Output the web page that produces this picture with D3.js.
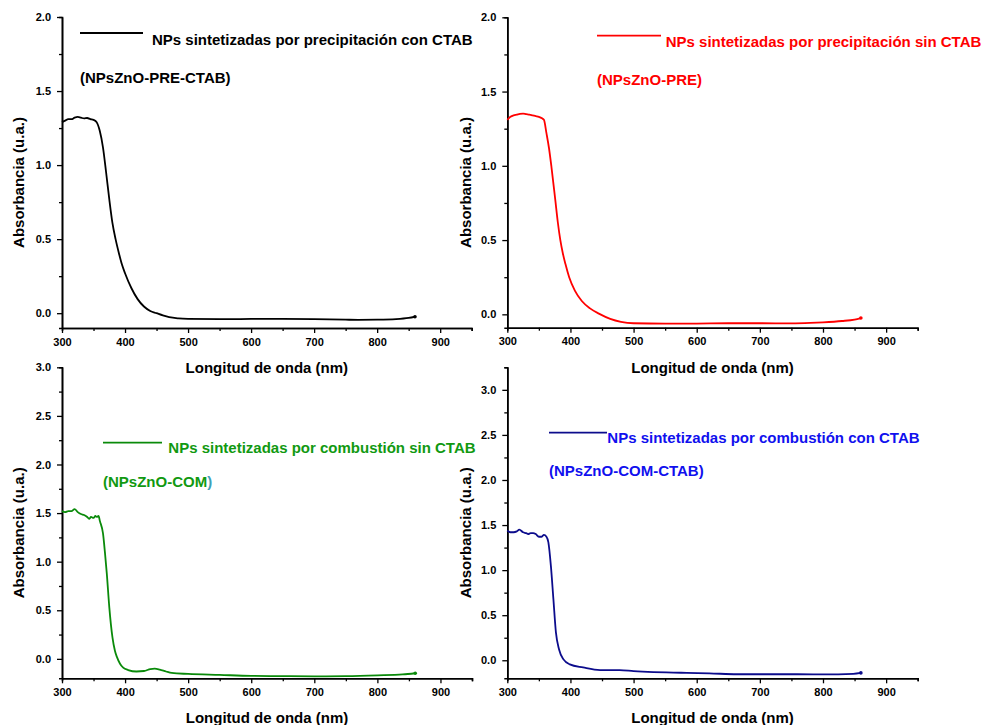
<!DOCTYPE html>
<html>
<head>
<meta charset="utf-8">
<script src="https://cdn.jsdelivr.net/npm/d3@7"></script>
<style>
  body { margin: 0; background: #fff; }
  svg text { font-family: "Liberation Sans", Arial, sans-serif; font-weight: bold; }
</style>
</head>
<body>
<svg id="chart" width="982" height="725"></svg>
<script>
// Data: wavelength (nm) and absorbance (u.a.)
var wlPreCtab = [300,305,310,315,320,325,330,335,340,345,350,355,360,365,370,375,380,385,390,395,400,410,420,430,440,450,460,470,485,500,550,600,650,700,750,770,800,830,850,860];
var absPreCtab = [1.29,1.30,1.31,1.31,1.32,1.325,1.32,1.315,1.318,1.31,1.305,1.29,1.23,1.12,0.95,0.77,0.61,0.50,0.41,0.33,0.27,0.17,0.095,0.045,0.015,0.0,-0.015,-0.027,-0.035,-0.038,-0.04,-0.039,-0.038,-0.04,-0.044,-0.045,-0.044,-0.04,-0.032,-0.024];

var wlPre = [300,305,310,315,320,325,330,335,340,345,350,355,358,362,366,370,376,380,384,388,392,398,407,418,431,445,463,480,500,550,600,650,700,750,780,800,830,850,860];
var absPre = [1.31,1.33,1.34,1.345,1.35,1.352,1.348,1.345,1.34,1.335,1.33,1.32,1.31,1.22,1.12,0.99,0.77,0.62,0.50,0.41,0.34,0.25,0.16,0.09,0.04,0.005,-0.03,-0.05,-0.06,-0.063,-0.062,-0.06,-0.06,-0.061,-0.058,-0.054,-0.045,-0.035,-0.025];

var wlCom = [300,305,310,315,320,325,330,335,340,343,346,350,353,355,358,360,365,368,371,375,380,384,387,392,397,405,418,430,440,447,455,465,474,500,550,600,650,700,750,800,840,860];
var absCom = [1.52,1.51,1.52,1.52,1.54,1.51,1.49,1.48,1.46,1.44,1.46,1.45,1.47,1.46,1.47,1.42,1.29,1.10,0.88,0.53,0.22,0.08,0.02,-0.05,-0.09,-0.115,-0.13,-0.125,-0.105,-0.10,-0.11,-0.13,-0.145,-0.155,-0.165,-0.175,-0.178,-0.18,-0.178,-0.17,-0.16,-0.148];

var wlComCtab = [300,305,310,315,319,325,330,333,337,341,345,350,354,358,362,365,369,373,377,382,389,399,420,447,478,500,584,620,664,700,759,800,848,860];
var absComCtab = [1.44,1.42,1.42,1.43,1.45,1.42,1.41,1.40,1.41,1.41,1.40,1.37,1.37,1.39,1.37,1.31,1.05,0.68,0.31,0.12,0.01,-0.045,-0.08,-0.11,-0.11,-0.12,-0.14,-0.145,-0.155,-0.155,-0.155,-0.157,-0.15,-0.14];

var xTicks = [300,400,500,600,700,800,900];
var xMinor = [350,450,550,650,750,850,950];
var yTicks2 = [0.0,0.5,1.0,1.5,2.0];
var yMinor2 = [0.25,0.75,1.25,1.75];
var yTicks3 = [0.0,0.5,1.0,1.5,2.0,2.5,3.0];
var yMinor3 = [0.25,0.75,1.25,1.75,2.25,2.75];
var yMinor3b = [0.25,0.75,1.25,1.75,2.25,2.75,3.25];

var legendNames = [
  "NPs sintetizadas por precipitación con CTAB",
  "NPs sintetizadas por precipitación sin CTAB",
  "NPs sintetizadas por combustión sin CTAB",
  "NPs sintetizadas por combustión con CTAB"
];
var sampleCodes = ["(NPsZnO-PRE-CTAB)", "(NPsZnO-PRE)", "(NPsZnO-COM", "(NPsZnO-COM-CTAB)"];

var xTitle = "Longitud de onda (nm)";
var yTitle = "Absorbancia (u.a.)";

var svg = d3.select("#chart");

// one panel per sample
var panels = [
  { wl: wlPreCtab, ab: absPreCtab, left: 62, right: 471.7, top: 17, bottom: 328, yDom: [-0.1, 2.0],
    yTicks: yTicks2, yMinor: yMinor2, line: "#000", text: "#000",
    leg: { x1: 80, x2: 143, ly: 33, tx: 152, ty: 44.5, cy: 82.5 }, yLabX: 18, xLabY: 373 },
  { wl: wlPre, ab: absPre, left: 507.3, right: 917.7, top: 17.3, bottom: 327.7, yDom: [-0.09, 2.0],
    yTicks: yTicks2, yMinor: yMinor2, line: "#ff0000", text: "#ff0000",
    leg: { x1: 597, x2: 661, ly: 35.7, tx: 665.7, ty: 47, cy: 84.5 }, yLabX: 465, xLabY: 373 },
  { wl: wlCom, ab: absCom, left: 62, right: 472, top: 367.3, bottom: 678.3, yDom: [-0.2, 3.0],
    yTicks: yTicks3, yMinor: yMinor3, line: "#0a8a0a", text: "#119911",
    leg: { x1: 103, x2: 162, ly: 442.7, tx: 168.3, ty: 452.5, cy: 486.5 }, yLabX: 18, xLabY: 723, tail: ")" },
  { wl: wlComCtab, ab: absComCtab, left: 507.3, right: 917.7, top: 367.3, bottom: 678.3, yDom: [-0.2, 3.25],
    yTicks: yTicks3, yMinor: yMinor3b, line: "#0c0c8c", text: "#1010ee",
    leg: { x1: 549, x2: 607, ly: 432.7, tx: 607.3, ty: 442.5, cy: 475.5 }, yLabX: 465, xLabY: 723 }
];

panels.forEach(function(p, i) {
  var x = d3.scaleLinear().domain([300, 950]).range([p.left, p.right]);
  var y = d3.scaleLinear().domain(p.yDom).range([p.bottom, p.top]);

  var g = svg.append("g");

  // minor ticks
  g.append("g")
    .attr("transform", "translate(0," + p.bottom + ")")
    .call(d3.axisBottom(x).tickValues(xMinor).tickSize(3).tickFormat(""));
  g.append("g")
    .attr("transform", "translate(" + p.left + ",0)")
    .call(d3.axisLeft(y).tickValues(p.yMinor).tickSize(3).tickFormat(""));

  // major axes
  g.append("g")
    .attr("transform", "translate(0," + p.bottom + ")")
    .call(d3.axisBottom(x).tickValues(xTicks).tickSize(5).tickSizeOuter(0).tickPadding(5).tickFormat(d3.format("d")));
  g.append("g")
    .attr("transform", "translate(" + p.left + ",0)")
    .call(d3.axisLeft(y).tickValues(p.yTicks).tickSize(5).tickSizeOuter(0).tickPadding(6).tickFormat(d3.format(".1f")));

  g.selectAll(".domain").attr("stroke-width", 1.6).attr("stroke", "#000");
  g.selectAll(".tick line").attr("stroke-width", 1.3).attr("stroke", "#000");
  g.selectAll(".tick text").attr("font-size", 11).attr("fill", "#000")
    .style("font-family", "'Liberation Sans', Arial, sans-serif").style("font-weight", "bold");

  // spectrum
  var pts = p.wl.map(function(w, k) { return [w, p.ab[k]]; });
  var line = d3.line()
    .x(function(d) { return x(d[0]); })
    .y(function(d) { return y(d[1]); })
    .curve(d3.curveMonotoneX);
  g.append("path")
    .datum(pts)
    .attr("d", line)
    .attr("fill", "none")
    .attr("stroke", p.line)
    .attr("stroke-width", 1.8);
  var last = pts[pts.length - 1];
  g.append("circle")
    .attr("cx", x(last[0])).attr("cy", y(last[1])).attr("r", 1.8)
    .attr("fill", p.line);

  // legend
  g.append("line")
    .attr("x1", p.leg.x1).attr("x2", p.leg.x2)
    .attr("y1", p.leg.ly).attr("y2", p.leg.ly)
    .attr("stroke", p.line).attr("stroke-width", 1.8);
  g.append("text")
    .attr("x", p.leg.tx).attr("y", p.leg.ty)
    .attr("font-size", 15).attr("fill", p.text)
    .text(legendNames[i]);
  var code = g.append("text")
    .attr("x", p.leg.x1).attr("y", p.leg.cy)
    .attr("font-size", 15).attr("fill", p.text)
    .text(sampleCodes[i]);
  if (p.tail) code.append("tspan").attr("fill", "#3fa0b8").text(p.tail);

  // axis titles
  g.append("text")
    .attr("x", (p.left + p.right) / 2).attr("y", p.xLabY)
    .attr("text-anchor", "middle").attr("font-size", 15).attr("fill", "#000")
    .text(xTitle);
  g.append("text")
    .attr("transform", "translate(" + (p.yLabX + 5.5) + "," + ((p.top + p.bottom) / 2 + 10) + ") rotate(-90)")
    .attr("text-anchor", "middle").attr("font-size", 15).attr("fill", "#000")
    .text(yTitle);
});
</script>
</body>
</html>
